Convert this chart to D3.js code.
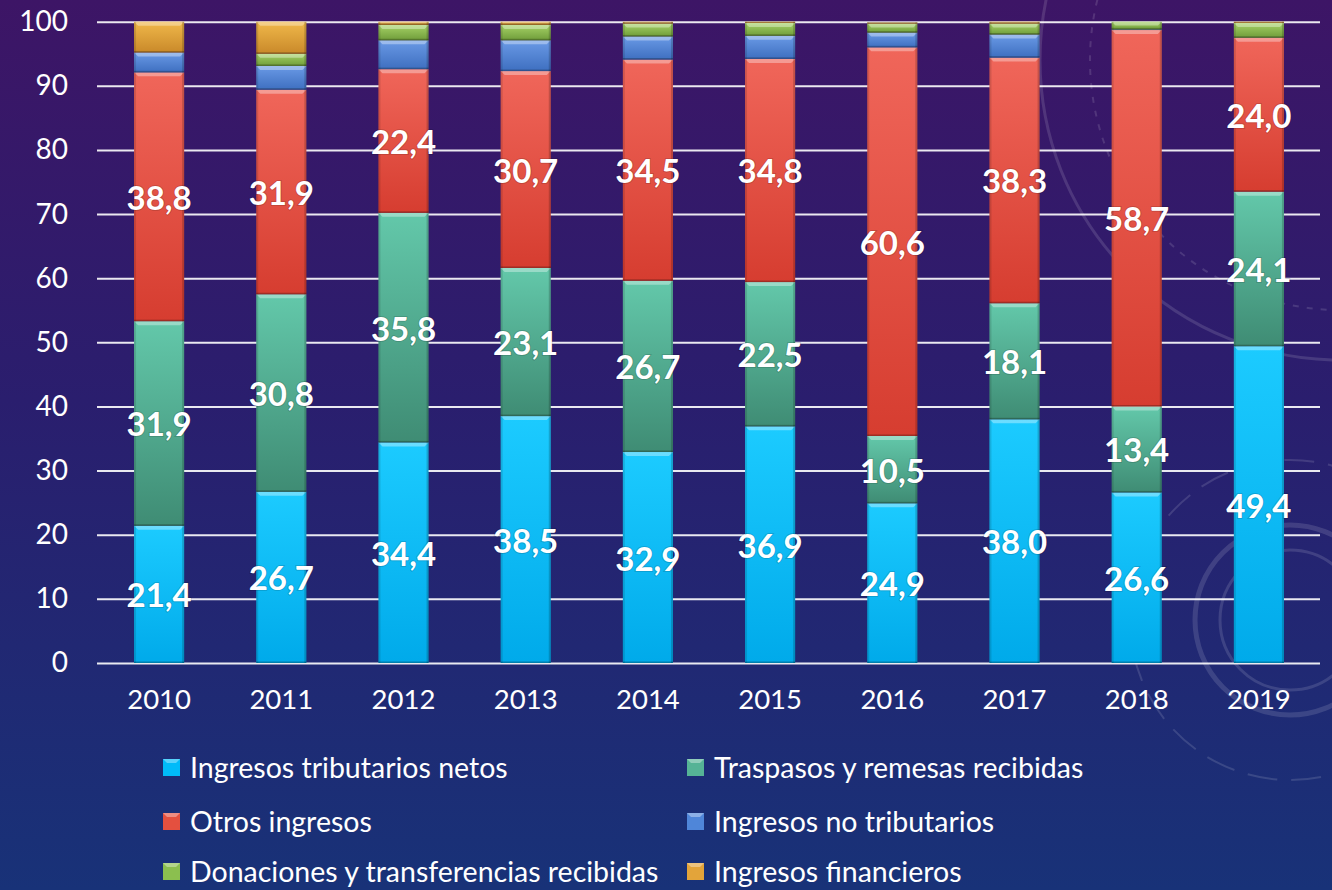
<!DOCTYPE html>
<html>
<head>
<meta charset="utf-8">
<script src="https://cdn.jsdelivr.net/npm/d3@7"></script>
<style>
  html, body { margin: 0; padding: 0; }
  body { width: 1332px; height: 890px; overflow: hidden; }
  svg text { font-family: Lato, "Open Sans", sans-serif; }
</style>
</head>
<body>
<div id="chart"></div>
<script>
// datos
const years = ["2010","2011","2012","2013","2014","2015","2016","2017","2018","2019"];
const seriesNames = ["Ingresos tributarios netos", "Traspasos y remesas recibidas", "Otros ingresos",
                     "Ingresos no tributarios", "Donaciones y transferencias recibidas", "Ingresos financieros"];
const tributarios = [21.4, 26.7, 34.4, 38.5, 32.9, 36.9, 24.9, 38.0, 26.6, 49.4];
const traspasos   = [31.9, 30.8, 35.8, 23.1, 26.7, 22.5, 10.5, 18.1, 13.4, 24.1];
const otros       = [38.8, 31.9, 22.4, 30.7, 34.5, 34.8, 60.6, 38.3, 58.7, 24.0];
const noTrib      = [3.1, 3.7, 4.5, 4.8, 3.6, 3.6, 2.3, 3.6, 0.1, 0.0];
const donaciones  = [0.0, 1.9, 2.4, 2.4, 2.0, 2.0, 1.4, 1.7, 1.2, 2.3];
const financieros = [4.8, 5.0, 0.5, 0.5, 0.3, 0.2, 0.2, 0.3, 0.0, 0.2];
const yTicks = [0, 10, 20, 30, 40, 50, 60, 70, 80, 90, 100];
const labeled = [true, true, true, false, false, false]; // series con etiqueta

const colors = [
  ["#1ccbff", "#00bbf9", "#00aaea"],
  ["#63c8aa", "#55b396", "#3f8c74"],
  ["#f0665a", "#e4503f", "#d63d30"],
  ["#6a9ae6", "#4f86d9", "#3e6fc0"],
  ["#a6d266", "#8bbf4f", "#6f9c3a"],
  ["#f0b84a", "#e3a43a", "#c9892a"]
];

const allSeries = [tributarios, traspasos, otros, noTrib, donaciones, financieros];

const W = 1332, H = 890;
const svg = d3.select("#chart").append("svg").attr("width", W).attr("height", H);
const defs = svg.append("defs");

// fondo
const bg = defs.append("linearGradient").attr("id", "bg").attr("x1", 0).attr("y1", 0).attr("x2", 0).attr("y2", 1);
bg.append("stop").attr("offset", "0%").attr("stop-color", "#3d1566");
bg.append("stop").attr("offset", "45%").attr("stop-color", "#2a1e6e");
bg.append("stop").attr("offset", "100%").attr("stop-color", "#183278");
svg.append("rect").attr("width", W).attr("height", H).attr("fill", "url(#bg)");

// adornos del fondo
const deco = svg.append("g").attr("fill", "none").attr("stroke", "rgba(255,255,255,0.13)");
deco.append("circle").attr("cx", 1340).attr("cy", 60).attr("r", 300).attr("stroke-width", 3);
deco.append("circle").attr("cx", 1340).attr("cy", 60).attr("r", 250).attr("stroke-width", 2).attr("stroke-dasharray", "6 8");
deco.append("circle").attr("cx", 1290).attr("cy", 620).attr("r", 95).attr("stroke-width", 5);
deco.append("circle").attr("cx", 1290).attr("cy", 620).attr("r", 70).attr("stroke-width", 3);
deco.append("circle").attr("cx", 1290).attr("cy", 620).attr("r", 160).attr("stroke-width", 2).attr("stroke-dasharray", "30 14");

// gradientes de las barras
colors.forEach((c, i) => {
  const g = defs.append("linearGradient").attr("id", "g" + i).attr("x1", 0).attr("y1", 0).attr("x2", 0).attr("y2", 1);
  g.append("stop").attr("offset", "0%").attr("stop-color", c[0]);
  g.append("stop").attr("offset", "100%").attr("stop-color", c[2]);
});

const x = d3.scaleBand().domain(years).range([98, 1320]).paddingInner(0.59).paddingOuter(0.295);
const y = d3.scaleLinear().domain([0, 100]).range([663, 21.7]);

// ejes y rejilla
const yAxis = svg.append("g")
  .attr("transform", "translate(97,0)")
  .call(d3.axisLeft(y).tickValues(yTicks).tickSize(-(1320 - 97)).tickPadding(29));
yAxis.select(".domain").remove();
yAxis.selectAll("line").attr("stroke", "#ffffff").attr("stroke-width", 2).attr("opacity", 0.9);
yAxis.selectAll("text").attr("fill", "#ffffff").style("font-size", "28px");

const xAxis = svg.append("g")
  .attr("transform", "translate(0,663)")
  .call(d3.axisBottom(x).tickSize(0).tickPadding(26));
xAxis.select(".domain").remove();
xAxis.selectAll("text").attr("fill", "#ffffff").style("font-size", "27.5px");

// apilado
const table = years.map((yr, i) => {
  const row = { year: yr };
  seriesNames.forEach((s, j) => row[s] = allSeries[j][i]);
  return row;
});
const stacked = d3.stack().keys(seriesNames)(table);

const bw = x.bandwidth();
stacked.forEach((layer, si) => {
  const g = svg.append("g");
  layer.forEach(d => {
    const x0 = x(d.data.year), y0 = y(d[1]), h = y(d[0]) - y(d[1]);
    if (h <= 0.2) return;
    g.append("rect").attr("x", x0).attr("y", y0).attr("width", bw).attr("height", h)
      .attr("fill", "url(#g" + si + ")");
    const b = Math.min(4, h / 2);
    // bisel superior claro
    g.append("path")
      .attr("d", `M${x0},${y0}L${x0 + bw},${y0}L${x0 + bw - b},${y0 + b}L${x0 + b},${y0 + b}Z`)
      .attr("fill", "rgba(255,255,255,0.35)");
    // bordes laterales oscuros
    g.append("rect").attr("x", x0).attr("y", y0).attr("width", 2).attr("height", h).attr("fill", "rgba(0,0,0,0.12)");
    g.append("rect").attr("x", x0 + bw - 2).attr("y", y0).attr("width", 2).attr("height", h).attr("fill", "rgba(0,0,0,0.18)");
    g.append("rect").attr("x", x0).attr("y", y0 + h - 1.5).attr("width", bw).attr("height", 1.5).attr("fill", "rgba(0,0,0,0.25)");
  });
});

// etiquetas
stacked.forEach((layer, si) => {
  if (!labeled[si]) return;
  svg.append("g").selectAll("text").data(layer).join("text")
    .attr("x", d => x(d.data.year) + bw / 2)
    .attr("y", d => y((d[0] + d[1]) / 2))
    .attr("text-anchor", "middle")
    .attr("dominant-baseline", "central")
    .attr("fill", "#ffffff")
    .style("font-size", "33px")
    .style("font-weight", "bold")
    .style("paint-order", "stroke")
    .attr("stroke", "rgba(0,0,0,0.15)")
    .attr("stroke-width", 2)
    .text(d => (d[1] - d[0]).toFixed(1).replace(".", ","));
});

// leyenda
const legendPos = [[163, 767], [687, 767], [163, 821], [687, 821], [163, 871], [687, 871]];
const leg = svg.append("g");
seriesNames.forEach((name, si) => {
  const [lx, ly] = legendPos[si];
  const c = colors[si];
  leg.append("rect").attr("x", lx).attr("y", ly - 8).attr("width", 17).attr("height", 17).attr("fill", c[1]);
  leg.append("path").attr("d", `M${lx},${ly - 8}L${lx + 17},${ly - 8}L${lx + 13},${ly - 4}L${lx + 4},${ly - 4}Z`)
    .attr("fill", "rgba(255,255,255,0.35)");
  leg.append("text").attr("x", lx + 27).attr("y", ly)
    .attr("dominant-baseline", "central")
    .attr("fill", "#ffffff").style("font-size", "28.5px")
    .text(name);
});
</script>
</body>
</html>
